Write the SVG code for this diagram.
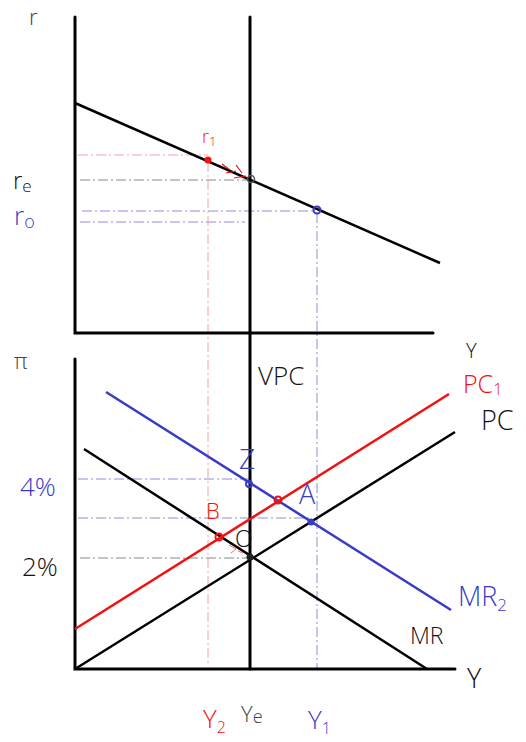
<svg xmlns="http://www.w3.org/2000/svg" width="526" height="742" viewBox="0 0 526 742">
<style>
.ax{stroke:#000;stroke-width:3;fill:none;stroke-linecap:round}
.ln{stroke:#000;stroke-width:2.5;fill:none}
.red{stroke:#f21010;stroke-width:2.5;fill:none}
.blu{stroke:#3a3ac8;stroke-width:2.5;fill:none}
.dr{stroke:#f4a0a0;stroke-width:1;fill:none;stroke-dasharray:10 3 2 3}
.db{stroke:#8c8ce0;stroke-width:1;fill:none;stroke-dasharray:10 3 2 3}
.dk{stroke:#888;stroke-width:1;fill:none;stroke-dasharray:10 3 2 3}
text{font-family:"Open Sans","Liberation Sans",sans-serif;font-weight:300}
.tk{fill:#111}
.tg{fill:#444}
.tr{fill:#f21010}
.tb{fill:#3a3ac8}
</style>
<rect width="526" height="742" fill="#fff"/>
<g id="guides">
<path class="dr" d="M78 155 H208"/>
<path class="dk" d="M80 180 H250"/>
<path class="db" d="M82 211 H316"/>
<path class="db" d="M80 222 H245"/>
<path class="dr" d="M208 162 V665"/>
<path class="db" d="M317 213 V669"/>
<path class="db" d="M78 479 H249"/>
<path class="db" d="M78 518 H311"/>
<path class="dk" d="M80 558 H250"/>
</g>
<g id="axes">
<path class="ax" d="M75 17 V333 H433"/>
<path class="ax" d="M75 359 V669 H455"/>
<path class="ax" d="M250 17 V669"/>
</g>
<g id="connectors">
<path class="ln" d="M75 103 L440 263"/>
<path class="blu" d="M106 392 L451 610"/>
<path class="ln" d="M84 449 L427 669"/>
<path class="red" d="M75 629 L449 394"/>
<path class="ln" d="M75 669 L455 432"/>
<path d="M222 164 l8 6 M226 173 l10 -2 M236 165 l6 8 M234 178 l12 -2" stroke="#f21010" stroke-width="1.2" fill="none"/>
<path d="M229 545 l7 4 l-5 4 M238 551 l5 2" stroke="#f47070" stroke-width="1" fill="none"/>
</g>
<g id="points">
<circle cx="208" cy="160" r="3.5" fill="#f21010"/>
<circle cx="251" cy="179" r="3.5" fill="none" stroke="#555" stroke-width="1.5"/>
<circle cx="317" cy="210" r="3.5" fill="none" stroke="#3a3ac8" stroke-width="2"/>
<circle cx="249" cy="484" r="3" fill="none" stroke="#3a3ac8" stroke-width="2"/>
<circle cx="278" cy="500" r="3.5" fill="none" stroke="#f21010" stroke-width="2"/>
<circle cx="311" cy="522" r="3.5" fill="#3a3ac8"/>
<circle cx="219" cy="537" r="3.5" fill="none" stroke="#f21010" stroke-width="2"/>
<circle cx="250" cy="557" r="3.5" fill="#222"/>
</g>
<g id="labels">
<text class="tg" x="29" y="25" font-size="22">r</text>
<text class="tk" x="13" y="189" font-size="24">r<tspan font-size="17" dy="3">e</tspan></text>
<text class="tb" x="14" y="225" font-size="26">r<tspan font-size="18" dy="3">o</tspan></text>
<text class="tr" x="202" y="143" font-size="18">r<tspan font-size="13" dy="3">1</tspan></text>
<text class="tg" x="14" y="369" font-size="22">π</text>
<text class="tk" x="258" y="385" font-size="26">VPC</text>
<text class="tk" x="466" y="358" font-size="20">Y</text>
<text class="tr" x="463" y="393" font-size="25">PC<tspan font-size="16" dy="2">1</tspan></text>
<text class="tk" x="481" y="430" font-size="27">PC</text>
<text class="tb" x="239" y="469" font-size="28">Z</text>
<text class="tb" x="20" y="496" font-size="26">4%</text>
<text class="tb" x="299" y="504" font-size="27">A</text>
<text class="tr" x="206" y="519" font-size="22">B</text>
<text class="tk" x="235" y="547" font-size="23">O</text>
<text class="tk" x="22" y="576" font-size="26">2%</text>
<text class="tb" x="458" y="606" font-size="27">MR<tspan font-size="17" dy="5">2</tspan></text>
<text class="tk" x="410" y="644" font-size="23">MR</text>
<text class="tk" x="467" y="688" font-size="27">Y</text>
<text class="tr" x="203" y="728" font-size="26">Y<tspan font-size="16" dy="5">2</tspan></text>
<text class="tg" x="241" y="722" font-size="22">Y<tspan font-size="18" dy="1">e</tspan></text>
<text class="tb" x="308" y="729" font-size="26">Y<tspan font-size="16" dy="5">1</tspan></text>
</g>
</svg>
